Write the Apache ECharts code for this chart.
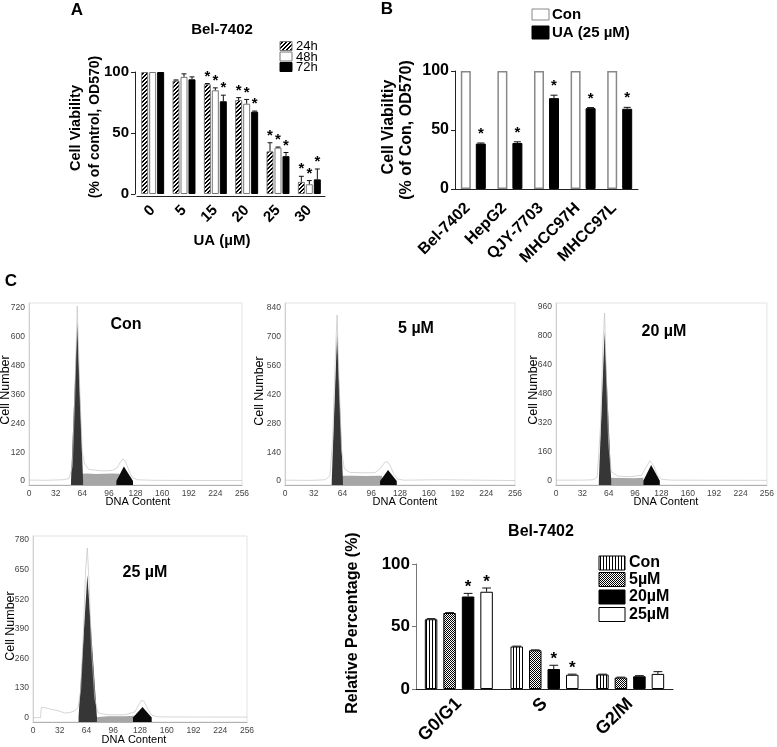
<!DOCTYPE html>
<html><head><meta charset="utf-8">
<script src="https://cdn.jsdelivr.net/npm/echarts@6/dist/echarts.min.js"></script>
<style>html,body{margin:0;padding:0;background:#fff}#c{width:777px;height:747px}</style>
</head><body><div id="c"></div>
<script>
// ---------- Panel A: Bel-7402 viability vs dose ----------
const doseCats = ['0','5','15','20','25','30'];
const v24 = [100, 93, 90, 77, 35, 10];
const e24 = [0, 0.5, 0.5, 2, 7, 4.5];
const v48 = [100, 96, 85, 74, 38, 8];
const e48 = [0, 2.5, 2, 3.5, 0.5, 3];
const v72 = [100, 94, 76, 67.5, 31, 12];
const e72 = [0, 2, 5, 0.5, 3, 8.5];
const starA = [0, 0, 1, 1, 1, 1];

// ---------- Panel B: cell lines ----------
const cellCats = ['Bel-7402','HepG2','QJY-7703','MHCC97H','MHCC97L'];
const bCon = [100, 100, 100, 100, 100];
const bUA = [38.5, 39, 77, 68.5, 68];
const bUAerr = [0.5, 1, 2.5, 0.5, 1.2];

// ---------- Panel C: histograms (DNA content, cell number) ----------
const dnaTicks = [0, 32, 64, 96, 128, 160, 192, 224, 256];
const cellTicksCon = [0, 120, 240, 360, 480, 600, 720];
const cellTicks5 = [0, 140, 280, 420, 560, 700, 840];
const cellTicks20 = [0, 160, 320, 480, 640, 800, 960];
const cellTicks25 = [0, 130, 260, 390, 520, 650, 780];

const histConG1 = [[50.5,0],[58,663],[65,0]];
const histConS  = [[61,0],[61,30],[70,31],[80,29],[90,30],[100,31],[109,30],[109,0]];
const histConG2 = [[105,0],[114,60],[125,0]];
const histConLine = [[0,4],[20,3],[40,5],[48,10],[52,60],[55,350],[58,728],[61,380],[64,120],[67,70],[72,48],[80,45],[90,42],[100,44],[106,55],[110,80],[113,92],[116,80],[120,45],[124,15],[130,5],[150,3],[200,2],[256,2]];

const hist5G1 = [[52,0],[58,718],[64.5,0]];
const hist5S  = [[60,0],[60,26],[75,25],[90,24],[104,26],[108,26],[108,0]];
const hist5G2 = [[105.8,0],[114.7,53],[124.4,0]];
const hist5Line = [[0,4],[30,3],[45,6],[50,25],[53,200],[56,600],[58,806],[60,500],[63,150],[66,60],[72,42],[85,40],[100,40],[106,60],[111,90],[114,94],[117,75],[121,35],[125,10],[132,4],[175,6],[256,2]];

const hist20G1 = [[52,0],[59,822],[67,0]];
const hist20S  = [[62,0],[62,16],[80,15],[95,14],[106,16],[106,0]];
const hist20G2 = [[106,0],[115.5,87],[126,0]];
const hist20Line = [[0,3],[30,3],[45,5],[50,20],[54,300],[57,750],[59,925],[61,600],[64,200],[67,50],[75,25],[90,22],[104,30],[110,80],[114,110],[116,112],[119,80],[123,30],[128,8],[140,3],[256,2]];

const hist25G1 = [[54.5,0],[65,626],[76.5,0]];
const hist25S  = [[70,0],[70,8],[90,6],[110,6],[122,8],[122,0]];
const hist25G2 = [[119.6,0],[131,47],[142,0]];
const hist25Line = [[0,0],[9,0],[10,45],[12,50],[16,42],[22,36],[30,30],[38,20],[44,22],[50,30],[54,45],[57,120],[60,350],[63,650],[65,745],[67,600],[70,300],[74,80],[78,20],[90,12],[110,12],[122,25],[127,60],[130,76],[133,70],[137,40],[142,10],[150,3],[256,2]];

// ---------- Panel C: cell cycle distribution ----------
const phaseCats = ['G0/G1','S','G2/M'];
const cCon = [55.8, 34, 11.6];
const cConErr = [0.5, 0.3, 0.3];
const c5 = [60.8, 31, 9.2];
const c5Err = [0.3, 0.3, 0.3];
const c20 = [74, 16, 10.2];
const c20Err = [2.5, 3, 0.5];
const c25 = [77.8, 11.4, 12.1];
const c25Err = [3, 0.5, 1.8];
const star20 = [1, 1, 0];
const star25 = [1, 1, 0];

// ---------- helpers ----------
const FF = '"Liberation Sans", Arial, Helvetica, sans-serif';
const NF = '"Liberation Sans Narrow", "Arial Narrow", "Liberation Sans", Arial, sans-serif';
function mkPattern(type){
  const c = document.createElement('canvas');
  const ctx = c.getContext('2d');
  if(type === 'hatch'){
    c.width = 4; c.height = 4;
    ctx.fillStyle = '#fff'; ctx.fillRect(0,0,4,4);
    ctx.fillStyle = '#000';
    for(let i=0;i<4;i++){ ctx.fillRect(i,3-i,1,1); ctx.fillRect((i+1)%4,3-i,1,1); }
  } else if(type === 'vstripe'){
    c.width = 3; c.height = 1;
    ctx.fillStyle = '#fff'; ctx.fillRect(0,0,3,1);
    ctx.fillStyle = '#000'; ctx.fillRect(0,0,1,1);
  } else {
    c.width = 2; c.height = 2;
    ctx.fillStyle = '#fff'; ctx.fillRect(0,0,2,2);
    ctx.fillStyle = '#000'; ctx.fillRect(0,0,1,1); ctx.fillRect(1,1,1,1);
  }
  return {image: c, repeat: 'repeat'};
}
const hatch = mkPattern('hatch');
const vstripe = mkPattern('vstripe');
const check = mkPattern('check');

function errSeries(ax, n, bw, gap, items, starGap, starSize){
  return {
    type: 'custom', xAxisIndex: ax, yAxisIndex: ax, silent: true, z: 5,
    encode: {x: 0, y: 1},
    data: items,
    renderItem: function(params, api){
      const ci = api.value(0), v = api.value(1), e = api.value(2), si = api.value(3), st = api.value(4);
      const total = n*bw + (n-1)*gap;
      const off = -total/2 + bw/2 + si*(bw+gap);
      const p0 = api.coord([ci, v]);
      const p1 = api.coord([ci, v + e]);
      const x = p0[0] + off;
      const cap = bw*0.35;
      const ch = [];
      if(e > 0){
        ch.push({type:'line', shape:{x1:x, y1:p0[1], x2:x, y2:p1[1]}, style:{stroke:'#111', lineWidth:1}});
        ch.push({type:'line', shape:{x1:x-cap, y1:p1[1], x2:x+cap, y2:p1[1]}, style:{stroke:'#111', lineWidth:1}});
      }
      if(st){
        ch.push({type:'text', style:{text:'*', x:x, y:p1[1]-starGap, align:'center', verticalAlign:'middle',
          font:'bold '+starSize+'px '+FF, fill:'#000'}});
      }
      return {type:'group', children: ch};
    }
  };
}

function histSeries(ax, g1, s, g2, line){
  const base = {type:'line', xAxisIndex:ax, yAxisIndex:ax, symbol:'none', silent:true, smooth:false};
  return [
    Object.assign({}, base, {data:s, lineStyle:{width:0}, areaStyle:{color:'#a6a6a6', opacity:1, origin:'start'}, z:2}),
    Object.assign({}, base, {data:g1, lineStyle:{width:0}, areaStyle:{color:'#363636', opacity:1, origin:'start'}, z:3}),
    Object.assign({}, base, {data:g2, lineStyle:{width:0}, areaStyle:{color:'#0a0a0a', opacity:1, origin:'start'}, z:3}),
    Object.assign({}, base, {data:line, lineStyle:{color:'#c4c4c4', width:0.7}, z:4})
  ];
}

function T(text, x, y, size, weight, rot, align, font){
  return {type:'text', x:x, y:y, rotation: rot || 0, z:10,
    style:{text:text, font: weight+' '+size+'px '+(font || FF), fill:'#000',
      align: align || 'center', textAlign: align || 'center', verticalAlign:'middle', textVerticalAlign:'middle'}};
}
function R(x, y, w, h, fill, stroke){
  return {type:'rect', z:10, shape:{x:x, y:y, width:w, height:h}, style:{fill:fill, stroke:stroke || null, lineWidth: stroke ? 1 : 0}};
}

// axes builders
function catAxis(gi, data, size, offset, margin, padRight){
  return {gridIndex:gi, type:'category', data:data, offset: offset || 0,
    axisLine:{onZero:false, lineStyle:{color:'#222', width:1}},
    axisTick:{alignWithLabel:true, length:4, lineStyle:{color:'#222'}},
    axisLabel:{interval:0, rotate:45, fontSize:size, fontWeight:'bold', color:'#000', fontFamily:FF,
      margin:margin, padding:[0, padRight || 0, 0, 0]},
    splitLine:{show:false}};
}
function valAxis(gi, size, offset, lineColor){
  return {gridIndex:gi, type:'value', min:0, max:100, interval:50, offset: offset || 0,
    axisLine:{show:true, lineStyle:{color: lineColor || '#222', width:1}},
    axisTick:{show:true, length:4, lineStyle:{color: lineColor || '#222'}},
    axisLabel:{fontSize:size, fontWeight:'bold', color:'#000', fontFamily:FF, margin:6},
    splitLine:{show:false}};
}
function histX(gi){
  return {gridIndex:gi, type:'value', min:0, max:256,
    axisLine:{onZero:false, lineStyle:{color:'#b0b0b0', width:1}},
    axisTick:{show:false},
    axisLabel:{customValues: dnaTicks, fontSize:8.5, color:'#444', fontFamily:NF, margin:4},
    splitLine:{show:false}};
}
function histY(gi, ticks, mn, mx){
  return {gridIndex:gi, type:'value', min:mn, max:mx,
    axisLine:{show:true, onZero:false, lineStyle:{color:'#cfcfcf', width:1}},
    axisTick:{show:false},
    axisLabel:{customValues: ticks, fontSize:8.5, color:'#444', fontFamily:NF, margin:4},
    splitLine:{show:false}};
}

// error bar items
const errA = [];
[[v24,e24],[v48,e48],[v72,e72]].forEach(function(p, s){
  p[0].forEach(function(v, i){ errA.push([i, v, p[1][i], s, starA[i]]); });
});
const errB = bUA.map(function(v, i){ return [i, v, bUAerr[i], 1, 1]; });
const errC = [];
[[cCon,cConErr,[0,0,0]],[c5,c5Err,[0,0,0]],[c20,c20Err,star20],[c25,c25Err,star25]].forEach(function(p, s){
  p[0].forEach(function(v, i){ errC.push([i, v, p[1][i], s, p[2][i]]); });
});

const chart = echarts.init(document.getElementById('c'), null, {renderer:'canvas'});
const histGridStyle = {show:true, borderColor:'#e2e2e2', borderWidth:1, backgroundColor:'#fff'};

const option = {
  animation: false,
  backgroundColor: '#fff',
  textStyle: {fontFamily: FF},
  grid: [
    {left:137, top:72, width:188, height:122},
    {left:455, top:71, width:183, height:118},
    Object.assign({left:29, top:303, width:213, height:182}, histGridStyle),
    Object.assign({left:285, top:303, width:230, height:182}, histGridStyle),
    Object.assign({left:556, top:303, width:212, height:182}, histGridStyle),
    Object.assign({left:33, top:536, width:214, height:186}, histGridStyle),
    {left:416, top:564, width:257, height:132}
  ],
  xAxis: [
    catAxis(0, doseCats, 15, 2, 12, 0),
    catAxis(1, cellCats, 16, 0, 11, 8),
    histX(2), histX(3), histX(4), histX(5),
    catAxis(6, phaseCats, 18, 0, 12, 0)
  ],
  yAxis: [
    valAxis(0, 15, 2),
    valAxis(1, 16, 0),
    histY(2, cellTicksCon, -16.6, 740.8),
    histY(3, cellTicks5, -19.4, 864),
    histY(4, cellTicks20, -23.7, 980),
    histY(5, cellTicks25, -19.4, 797.6),
    valAxis(6, 17, 0, '#777')
  ],
  series: [
    {type:'bar', name:'24h', xAxisIndex:0, yAxisIndex:0, data:v24, barWidth:7, barGap:'14%',
      itemStyle:{color:hatch, borderColor:'#777', borderWidth:1}},
    {type:'bar', name:'48h', xAxisIndex:0, yAxisIndex:0, data:v48, barWidth:7, barGap:'14%',
      itemStyle:{color:'#fff', borderColor:'#777', borderWidth:1}},
    {type:'bar', name:'72h', xAxisIndex:0, yAxisIndex:0, data:v72, barWidth:7, barGap:'14%',
      itemStyle:{color:'#000', borderColor:'#000', borderWidth:1}},
    errSeries(0, 3, 7, 1, errA, 7, 15),

    {type:'bar', name:'Con', xAxisIndex:1, yAxisIndex:1, data:bCon, barWidth:10, barGap:'50%',
      itemStyle:{color:'#fff', borderColor:'#888', borderWidth:1.5}},
    {type:'bar', name:'UA (25 µM)', xAxisIndex:1, yAxisIndex:1, data:bUA, barWidth:10, barGap:'50%',
      itemStyle:{color:'#000', borderColor:'#000', borderWidth:1}},
    errSeries(1, 2, 10, 5, errB, 9, 15),
  ].concat(
    histSeries(2, histConG1, histConS, histConG2, histConLine),
    histSeries(3, hist5G1, hist5S, hist5G2, hist5Line),
    histSeries(4, hist20G1, hist20S, hist20G2, hist20Line),
    histSeries(5, hist25G1, hist25S, hist25G2, hist25Line),
    [
      {type:'bar', name:'Con ', xAxisIndex:6, yAxisIndex:6, data:cCon, barWidth:12.5, barGap:'48%',
        itemStyle:{color:vstripe, borderColor:'#000', borderWidth:1}},
      {type:'bar', name:'5µM', xAxisIndex:6, yAxisIndex:6, data:c5, barWidth:12.5, barGap:'48%',
        itemStyle:{color:check, borderColor:'#000', borderWidth:1}},
      {type:'bar', name:'20µM', xAxisIndex:6, yAxisIndex:6, data:c20, barWidth:12.5, barGap:'48%',
        itemStyle:{color:'#000', borderColor:'#000', borderWidth:1}},
      {type:'bar', name:'25µM', xAxisIndex:6, yAxisIndex:6, data:c25, barWidth:12.5, barGap:'48%',
        itemStyle:{color:'#fff', borderColor:'#000', borderWidth:1}},
      errSeries(6, 4, 12.5, 6, errC, 6, 17)
    ]
  ),
  graphic: [
    // Panel A
    T('A', 77, 10, 17, 'bold'),
    T('Bel-7402', 222, 30, 15, 'bold'),
    T('Cell Viability', 76, 128, 14.5, 'bold', Math.PI/2),
    T('(% of control, OD570)', 95, 127, 14, 'bold', Math.PI/2),
    T('UA (µM)', 222, 241, 15, 'bold'),
    R(280, 41.5, 12, 9, hatch, '#777'),
    R(280, 52, 12, 9, '#fff', '#777'),
    R(280, 62.5, 12, 9, '#000', '#000'),
    T('24h', 296, 46.5, 13, 'normal', 0, 'left'),
    T('48h', 296, 57, 13, 'normal', 0, 'left'),
    T('72h', 296, 67.5, 13, 'normal', 0, 'left'),
    // Panel B
    T('B', 387, 9, 17, 'bold'),
    R(532, 9, 17, 11, '#fff', '#888'),
    R(532, 26, 17, 13, '#000', '#000'),
    T('Con', 552, 14.5, 15, 'bold', 0, 'left'),
    T('UA (25 µM)', 552, 32.5, 15, 'bold', 0, 'left'),
    T('Cell Viabiltiy', 389, 127, 16, 'bold', Math.PI/2),
    T('(% of Con, OD570)', 406.5, 130, 16, 'bold', Math.PI/2),
    // Panel C histograms
    T('C', 11, 281, 17, 'bold'),
    T('Con', 126, 325, 16, 'bold'),
    T('5 µM', 416, 329, 16, 'bold'),
    T('20 µM', 664, 332, 16, 'bold'),
    T('25 µM', 145, 573, 16, 'bold'),
    T('Cell Number', 6, 390, 12.5, 'normal', Math.PI/2),
    T('Cell Number', 260, 391, 12.5, 'normal', Math.PI/2),
    T('Cell Number', 534, 390, 12.5, 'normal', Math.PI/2),
    T('Cell Number', 11, 626, 12.5, 'normal', Math.PI/2),
    T('DNA Content', 138, 502, 11, 'normal'),
    T('DNA Content', 405, 502, 11, 'normal'),
    T('DNA Content', 666, 502, 11, 'normal'),
    T('DNA Content', 134, 740, 11, 'normal'),
    // Panel C cell-cycle bars
    T('Bel-7402', 541, 532, 16, 'bold'),
    T('Relative Percentage (%)', 353, 623, 16, 'bold', Math.PI/2),
    R(599, 556, 26, 14, vstripe, '#000'),
    R(599, 572.5, 26, 14, check, '#000'),
    R(599, 590, 26, 14, '#000', '#000'),
    R(599, 607.5, 26, 14, '#fff', '#000'),
    T('Con', 629, 563, 16, 'bold', 0, 'left'),
    T('5µM', 629, 580, 16, 'bold', 0, 'left'),
    T('20µM', 629, 597, 16, 'bold', 0, 'left'),
    T('25µM', 629, 614.5, 16, 'bold', 0, 'left')
  ]
};
chart.setOption(option);
</script>
</body></html>
